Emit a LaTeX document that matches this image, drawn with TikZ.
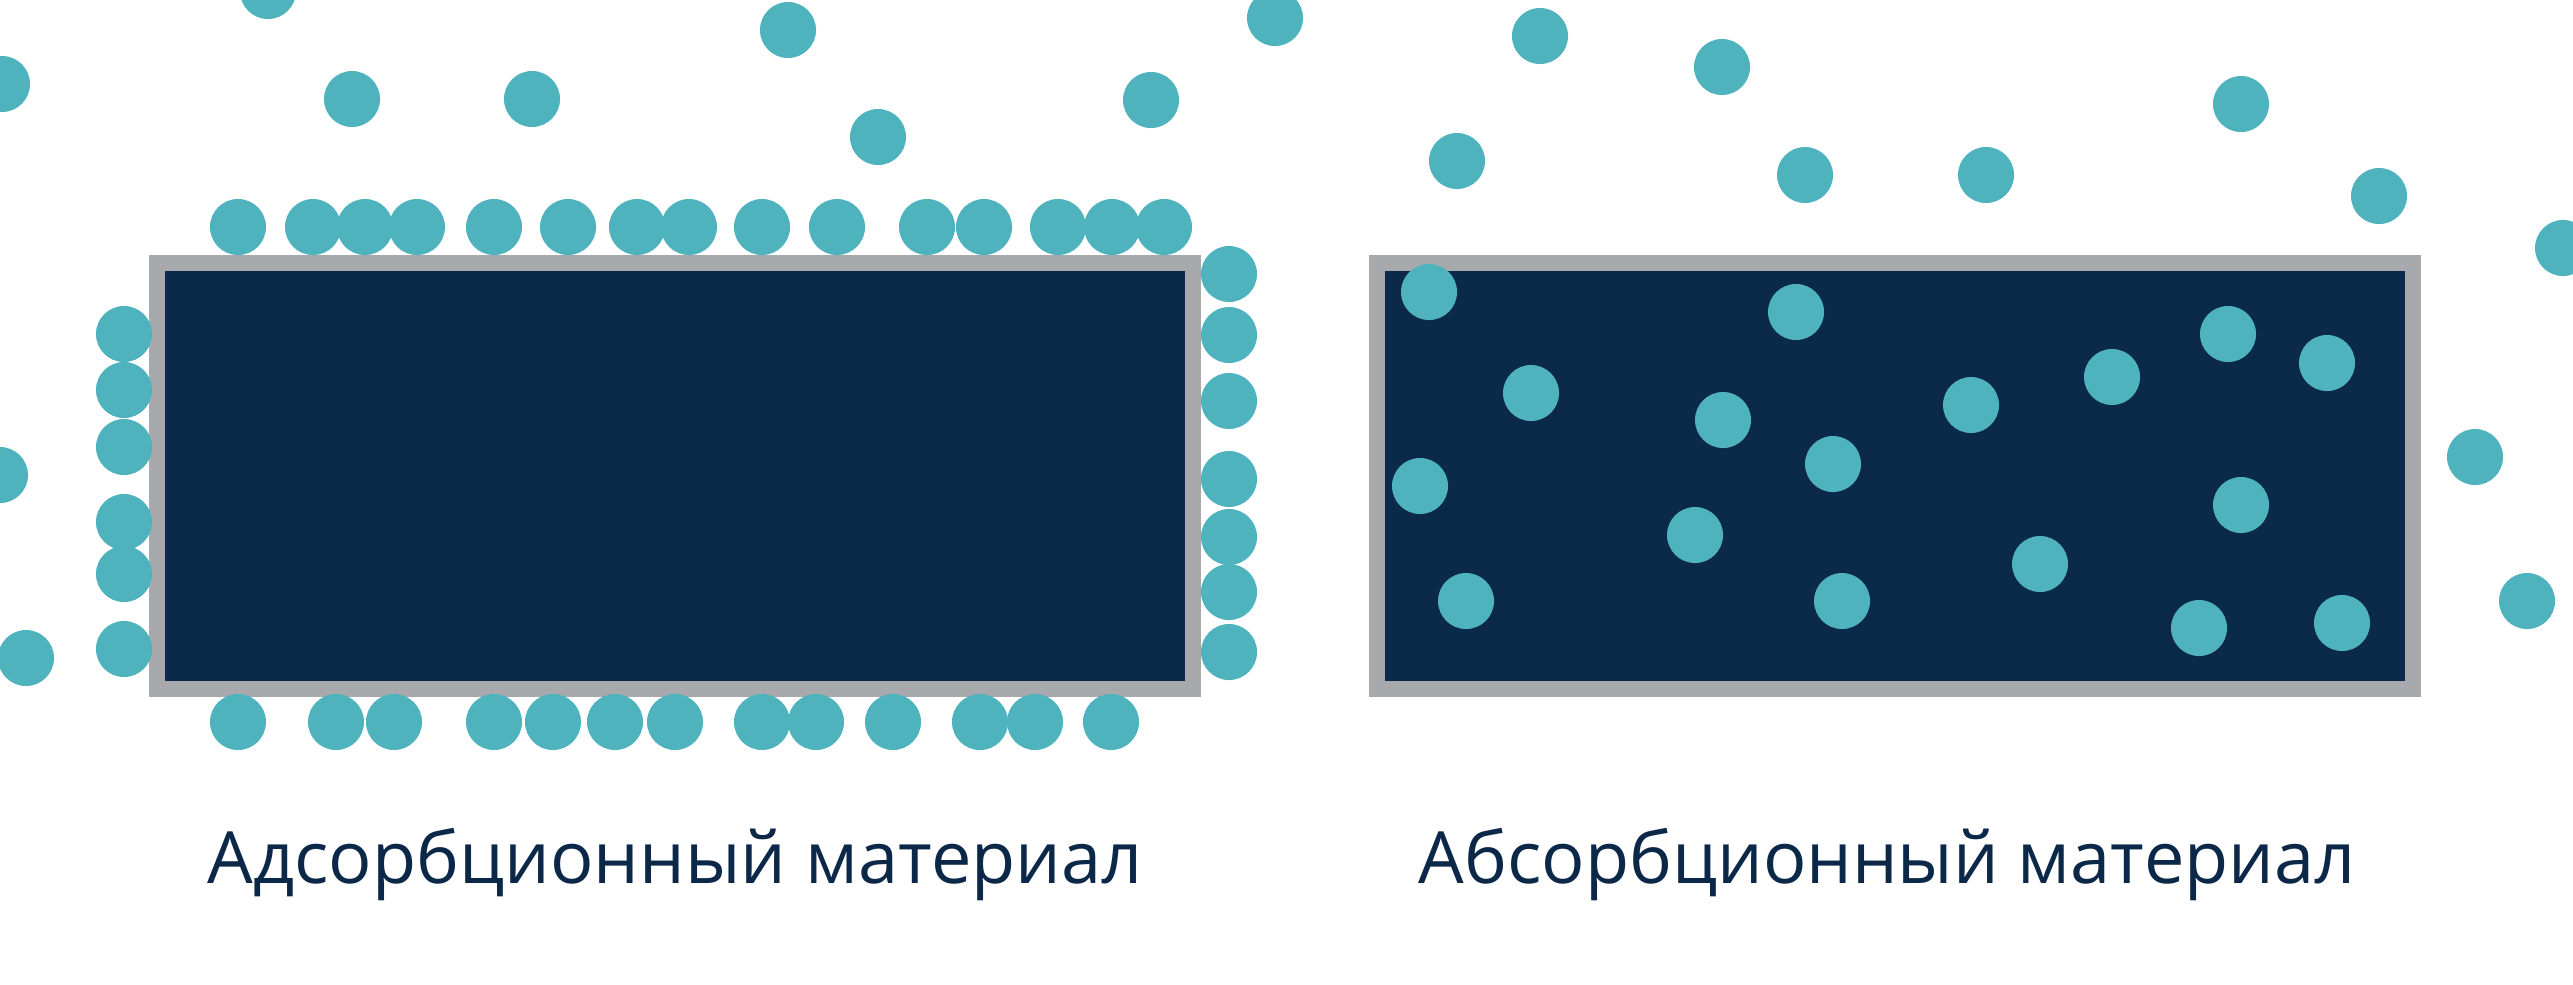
\documentclass[tikz,border=0pt]{standalone}
\usepackage{fontspec}
\setmainfont{Open Sans}
\usepackage{xcolor}
\definecolor{DotTeal}{RGB}{79,179,189}
\definecolor{BlockNavy}{RGB}{11,41,73}
\definecolor{FrameGray}{RGB}{167,169,172}
\definecolor{LabelNavy}{RGB}{12,40,72}
\usetikzlibrary{positioning}

\begin{document}
\begin{tikzpicture}[
      , x=0.01cm, y=-0.01cm
      , molecule/.style={circle, fill=DotTeal, inner sep=0pt, minimum size=0.56cm}
      , material/.style={draw=FrameGray, fill=BlockNavy, line width=0.16cm, inner sep=0pt,
                         minimum width=10.35cm, minimum height=4.265cm}
      , caption/.style={text=LabelNavy, font=\fontsize{20.5pt}{24pt}\selectfont, inner sep=0pt}
      ]

      \useasboundingbox[fill=white] (0,0) rectangle (2573,984);

      % the two blocks
      \node[material] (adsorb) at (675,476) {};
      \node[material] (absorb) at (1895,476) {};

      \node[caption, anchor=base] (adsorb-label) at (adsorb.center |- 0,883) {Адсорбционный материал};
      \node[caption, anchor=base, xshift=-0.08cm] (absorb-label) at (absorb.center |- 0,883) {Абсорбционный материал};

      % free molecules, left side
      \foreach \x/\y [count=\i] in {268/-9, 788/30, 1275/18, 2/84, 352/99, 532/99, 878/137, 1151/100,
                                    0/475, 26/658}
        \node[molecule] (free-a\i) at (\x,\y) {};

      % stuck to the surface of the adsorbent
      \foreach \x [count=\i] in {238, 313, 365, 417, 494, 568, 637, 689, 762, 837, 927, 984, 1058, 1112, 1164}
        \node[molecule] (top\i) at (\x,227) {};
      \foreach \x [count=\i] in {238, 336, 394, 494, 553, 615, 675, 762, 816, 893, 980, 1035, 1111}
        \node[molecule] (bottom\i) at (\x,722) {};
      \foreach \y [count=\i] in {334, 390, 447, 522, 574, 649}
        \node[molecule] (west\i) at (124,\y) {};
      \foreach \y [count=\i] in {274, 335, 401, 479, 537, 592, 652}
        \node[molecule] (east\i) at (1229,\y) {};

      % free molecules, right side
      \foreach \x/\y [count=\i] in {1540/36, 1722/67, 1457/161, 1805/175, 1986/175, 2241/104, 2379/196,
                                    2563/248, 2475/457, 2527/601}
        \node[molecule] (free-b\i) at (\x,\y) {};

      % taken up inside the absorbent
      \foreach \x/\y [count=\i] in {1429/292, 1796/312, 1531/393, 1723/420, 1833/464, 1971/405,
                                    2112/377, 2228/334, 2327/363, 1420/486, 1695/535, 2241/505,
                                    2040/564, 1466/601, 1842/601, 2199/628, 2342/623}
        \node[molecule] (inside\i) at (\x,\y) {};
    \end{tikzpicture}
\end{document}
